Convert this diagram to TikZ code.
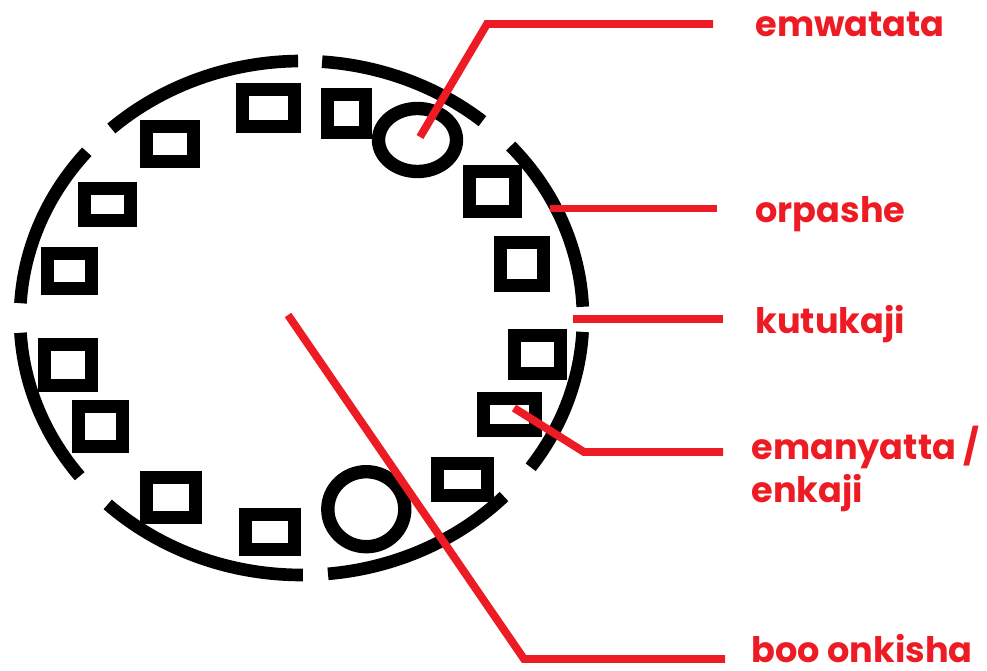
\documentclass[tikz,border=0pt]{standalone}
\usepackage{fontspec}
\setmainfont{Poppins}
\definecolor{paintred}{RGB}{237,28,36}
\tikzset{
  ring/.style={line width=7.2pt},
  hut/.style={line width=7.6pt},
  lead/.style={draw=paintred, line width=4.5pt},
  lbl/.style={text=paintred, font=\fontsize{20}{25}\selectfont\bfseries, anchor=base west,
    inner sep=0pt, align=left},
}
\begin{document}
\begin{tikzpicture}[x=0.02cm, y=-0.02cm]
  \useasboundingbox (0,0) rectangle (987,671);
  % fence, in pieces
  \foreach \a/\b in {90.7/132.5, 50/85.8, 2.5/42, -35.5/-3.1, -84.6/-44, -133.5/-89.7,
    183.3/218, 139.7/176.7}
    \draw[ring] (301.5,318) ++(-\a:281.5 and 257) arc[start angle=-\a, end angle=-\b,
      x radius=281.5, y radius=257];
  % houses
  \foreach \xa/\ya/\xb/\yb in {236/83/301/133, 140/120/200/168, 78/182/137/227, 41/247/98/295,
    38/338/98/392, 72/400/129/453, 140/471/202/524, 239/508/301/556, 321/88/372/139,
    463/165/522/218, 494/236/550/292, 508/329/567/380, 477/392/542/437, 431/457/494/502}
    \draw[hut] (\xa+6.8,\ya+6.8) rectangle (\xb-6.8,\yb-6.8);
  % pens
  \draw[hut] (417.5,140) ellipse[x radius=39, y radius=31.5];
  \draw[hut] (366.3,509.2) ellipse[x radius=38.5, y radius=37.5];
  % labels
  \node[lbl] (wat) at (755,37) {emwatata};
  \node[lbl] (pas) at (755,223) {orpashe};
  \node[lbl] (kut) at (755,334) {kutukaji};
  \node[lbl] (many) at (751,503) {emanyatta /\\enkaji};
  \node[lbl] (boo) at (751,663) {boo onkisha};
  % leaders
  \coordinate (wat-s) at (420,137);
  \coordinate (wat-k) at (487,24);
  \coordinate (wat-e) at (713,24);
  \coordinate (pas-s) at (550,208.5);
  \coordinate (pas-e) at (717,208.5);
  \coordinate (kut-s) at (573,319);
  \coordinate (kut-e) at (723,319);
  \coordinate (many-s) at (514,408);
  \coordinate (many-k) at (584,452);
  \coordinate (many-e) at (723,452);
  \coordinate (boo-s) at (288,315);
  \coordinate (boo-k) at (524,659);
  \coordinate (boo-e) at (725,659);
  \draw[lead] (wat-s) -- (wat-k) -- (wat-e);
  \draw[lead] (pas-s) -- (pas-e);
  \draw[lead] (kut-s) -- (kut-e);
  \draw[lead] (many-s) -- (many-k) -- (many-e);
  \draw[lead] (boo-s) -- (boo-k) -- (boo-e);
\end{tikzpicture}
\end{document}
